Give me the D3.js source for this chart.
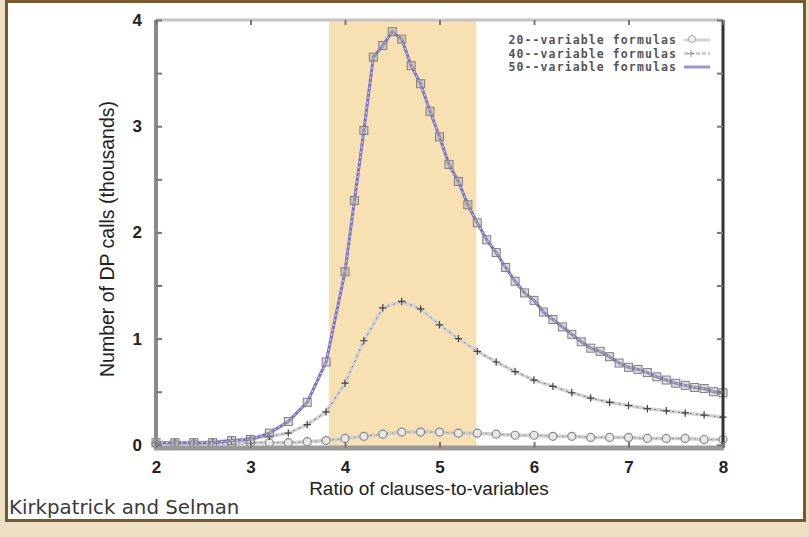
<html>
<head>
<script src="https://d3js.org/d3.v7.min.js"></script>
<style>
  body { margin: 0; background: #ecdfc3; }
</style>
</head>
<body>
<svg></svg>
<script>
// x positions (ratio of clauses to variables)
const xCoarse = [2.0, 2.2, 2.4, 2.6, 2.8, 3.0, 3.2, 3.4, 3.6, 3.8,
                 4.0, 4.2, 4.4, 4.6, 4.8, 5.0, 5.2, 5.4, 5.6, 5.8,
                 6.0, 6.2, 6.4, 6.6, 6.8, 7.0, 7.2, 7.4, 7.6, 7.8, 8.0];
const xFine = [2.0, 2.2, 2.4, 2.6, 2.8, 3.0, 3.2, 3.4, 3.6, 3.8,
               4.0, 4.1, 4.2, 4.3, 4.4, 4.5, 4.6, 4.7, 4.8, 4.9,
               5.0, 5.1, 5.2, 5.3, 5.4, 5.5, 5.6, 5.7, 5.8, 5.9,
               6.0, 6.1, 6.2, 6.3, 6.4, 6.5, 6.6, 6.7, 6.8, 6.9,
               7.0, 7.1, 7.2, 7.3, 7.4, 7.5, 7.6, 7.7, 7.8, 7.9, 8.0];

// DP calls in thousands
const calls20 = [0.01, 0.01, 0.01, 0.01, 0.01, 0.02, 0.02, 0.02, 0.03, 0.04,
                 0.06, 0.08, 0.10, 0.12, 0.12, 0.12, 0.11, 0.11, 0.10, 0.09,
                 0.09, 0.08, 0.08, 0.07, 0.07, 0.07, 0.06, 0.06, 0.06, 0.05, 0.05];
const calls40 = [0.02, 0.02, 0.02, 0.03, 0.04, 0.06, 0.08, 0.11, 0.19, 0.31,
                 0.58, 0.98, 1.29, 1.35, 1.28, 1.13, 1.00, 0.88, 0.78, 0.69,
                 0.61, 0.55, 0.49, 0.44, 0.40, 0.37, 0.34, 0.32, 0.30, 0.28, 0.26];
const calls50 = [0.02, 0.02, 0.02, 0.02, 0.04, 0.05, 0.11, 0.22, 0.40, 0.78,
                 1.63, 2.30, 2.96, 3.65, 3.76, 3.89, 3.82, 3.57, 3.40, 3.14,
                 2.90, 2.64, 2.48, 2.26, 2.09, 1.93, 1.81, 1.67, 1.54, 1.43,
                 1.36, 1.25, 1.18, 1.11, 1.04, 0.97, 0.91, 0.88, 0.83, 0.77,
                 0.73, 0.71, 0.68, 0.64, 0.61, 0.58, 0.56, 0.54, 0.53, 0.50, 0.49];

const seriesNames = ["20--variable formulas", "40--variable formulas", "50--variable formulas"];
const xTickValues = [2, 3, 4, 5, 6, 7, 8];
const yTickValues = [0, 1, 2, 3, 4];
const yMinorValues = [0, 0.5, 1, 1.5, 2, 2.5, 3, 3.5, 4];
const band = [3.83, 5.39];
const credit = "Kirkpatrick and Selman";

const W = 809, H = 537;
const plotL = 156, plotR = 723, plotT = 20, plotB = 448;

const svg = d3.select("svg").attr("width", W).attr("height", H);

// frame
svg.append("rect").attr("x", 6.5).attr("y", 1.5).attr("width", 798).attr("height", 519)
  .attr("fill", "white").attr("stroke", "#7a5a2c").attr("stroke-width", 3);

const x = d3.scaleLinear().domain([2, 8]).range([plotL, plotR]);
const y = d3.scaleLinear().domain([-0.03, 4]).range([plotB, plotT]);

// shaded phase transition region
svg.append("rect")
  .attr("x", x(band[0])).attr("y", plotT)
  .attr("width", x(band[1]) - x(band[0])).attr("height", plotB - plotT)
  .attr("fill", "#f7e0b2");

const line = d3.line().x(d => x(d[0])).y(d => y(d[1]));
const d20 = xCoarse.map((v, i) => [v, calls20[i]]);
const d40 = xCoarse.map((v, i) => [v, calls40[i]]);
const d50 = xFine.map((v, i) => [v, calls50[i]]);

// 20-variable
svg.append("path").datum(d20).attr("d", line).attr("fill", "none")
  .attr("stroke", "#cdcdcd").attr("stroke-width", 3.5);
svg.append("path").datum(d20).attr("d", line).attr("fill", "none")
  .attr("stroke", "#888").attr("stroke-width", 1).attr("stroke-dasharray", "1.5,4");
svg.append("g").selectAll("circle").data(d20).join("circle")
  .attr("cx", d => x(d[0])).attr("cy", d => y(d[1])).attr("r", 4)
  .attr("fill", "#e8e8e8").attr("stroke", "#8a8a8a").attr("stroke-width", 1.2);

// 40-variable
svg.append("path").datum(d40).attr("d", line).attr("fill", "none")
  .attr("stroke", "#d4d4d4").attr("stroke-width", 3.5);
svg.append("path").datum(d40).attr("d", line).attr("fill", "none")
  .attr("stroke", "#777").attr("stroke-width", 1).attr("stroke-dasharray", "2,4");
svg.append("g").selectAll("path").data(d40).join("path")
  .attr("transform", d => `translate(${x(d[0])},${y(d[1])})`)
  .attr("d", d3.symbol(d3.symbolPlus, 20))
  .attr("fill", "none").attr("stroke", "#444").attr("stroke-width", 1.2);

// 50-variable
svg.append("path").datum(d50).attr("d", line).attr("fill", "none")
  .attr("stroke", "#7d72c3").attr("stroke-width", 3);
svg.append("path").datum(d50).attr("d", line).attr("fill", "none")
  .attr("stroke", "#ebe9f7").attr("stroke-width", 1).attr("stroke-dasharray", "2,3");
svg.append("g").selectAll("rect").data(d50).join("rect")
  .attr("x", d => x(d[0]) - 4).attr("y", d => y(d[1]) - 4)
  .attr("width", 8).attr("height", 8)
  .attr("fill", "rgba(170,170,170,0.4)").attr("stroke", "#808080").attr("stroke-width", 1);

// axes frame
svg.append("line").attr("x1", plotL).attr("x2", plotR).attr("y1", plotT).attr("y2", plotT)
  .attr("stroke", "#c4c4c4").attr("stroke-width", 3);
svg.append("line").attr("x1", plotR).attr("x2", plotR).attr("y1", plotT).attr("y2", plotB)
  .attr("stroke", "#333").attr("stroke-width", 3);
svg.append("line").attr("x1", plotL).attr("x2", plotL).attr("y1", plotT).attr("y2", plotB)
  .attr("stroke", "#8a8a8a").attr("stroke-width", 4);
svg.append("line").attr("x1", plotL - 2).attr("x2", plotR + 1).attr("y1", plotB).attr("y2", plotB)
  .attr("stroke", "#999").attr("stroke-width", 5);

// ticks
const tickFont = "'Liberation Sans', Arial, sans-serif";
svg.append("g").attr("transform", `translate(0,${plotB})`)
  .call(d3.axisBottom(x).tickValues(xTickValues).tickSize(-6).tickPadding(13).tickFormat(d3.format("d")));
svg.append("g").attr("transform", `translate(${plotL},0)`)
  .call(d3.axisLeft(y).tickValues(yMinorValues).tickSize(-6).tickPadding(14)
    .tickFormat(d => yTickValues.includes(d) ? d3.format("d")(d) : ""));
svg.append("g").attr("transform", `translate(0,${plotT})`)
  .call(d3.axisTop(x).tickValues(xTickValues).tickSize(-5).tickFormat(""));
svg.append("g").attr("transform", `translate(${plotR},0)`)
  .call(d3.axisRight(y).tickValues(yMinorValues).tickSize(-6).tickFormat(""));

svg.selectAll(".domain").remove();
svg.selectAll(".tick line").attr("stroke", "#777").attr("stroke-width", 2);
svg.selectAll(".tick text").attr("font-family", tickFont).attr("font-size", 17)
  .attr("font-weight", "bold").attr("fill", "#222");

// axis titles
svg.append("text").attr("x", 429).attr("y", 495).attr("text-anchor", "middle")
  .attr("font-family", tickFont).attr("font-size", 19).attr("fill", "#222")
  .text("Ratio of clauses-to-variables");
svg.append("text").attr("transform", "translate(114,239) rotate(-90)").attr("text-anchor", "middle")
  .attr("font-family", tickFont).attr("font-size", 19.5).attr("fill", "#222")
  .text("Number of DP calls (thousands)");

// legend
const legendY = [44, 57.5, 71];
const leg = svg.append("g");
seriesNames.forEach((name, i) => {
  leg.append("text").attr("x", 677).attr("y", legendY[i]).attr("text-anchor", "end")
    .attr("font-family", "'DejaVu Sans Mono', monospace").attr("font-size", 11.5)
    .attr("letter-spacing", 1.1)
    .attr("font-weight", "bold").attr("fill", "#555").text(name);
});
leg.append("line").attr("x1", 684).attr("x2", 710).attr("y1", legendY[0] - 4).attr("y2", legendY[0] - 4)
  .attr("stroke", "#d0d0d0").attr("stroke-width", 3);
leg.append("circle").attr("cx", 692).attr("cy", legendY[0] - 5).attr("r", 3.5)
  .attr("fill", "#eee").attr("stroke", "#aaa");
leg.append("line").attr("x1", 684).attr("x2", 710).attr("y1", legendY[1] - 4).attr("y2", legendY[1] - 4)
  .attr("stroke", "#d0d0d0").attr("stroke-width", 3).attr("stroke-dasharray", "4,2");
leg.append("path").attr("transform", `translate(691,${legendY[1] - 4})`)
  .attr("d", d3.symbol(d3.symbolPlus, 20)).attr("stroke", "#999").attr("fill", "none");
leg.append("line").attr("x1", 684).attr("x2", 710).attr("y1", legendY[2] - 4).attr("y2", legendY[2] - 4)
  .attr("stroke", "#9d94d4").attr("stroke-width", 3);

// credit
svg.append("text").attr("x", 9).attr("y", 514)
  .attr("font-family", "'DejaVu Sans', Verdana, sans-serif").attr("font-size", 19.8)
  .attr("fill", "#3a3a3a").text(credit);
</script>
</body>
</html>
